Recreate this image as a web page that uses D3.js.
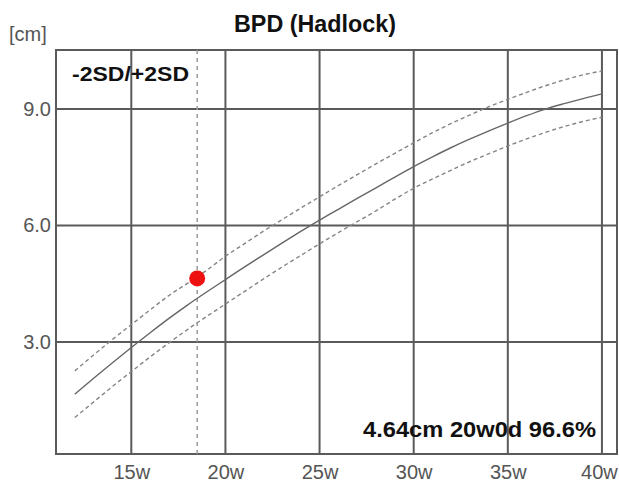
<!DOCTYPE html>
<html>
<head>
<meta charset="utf-8">
<script src="https://cdn.jsdelivr.net/npm/d3@7"></script>
<style>
  body { margin: 0; background: #fff; }
  svg { display: block; font-family: "Liberation Sans", Arial, sans-serif; }
</style>
</head>
<body>
<div id="chart"></div>
<script>
// Gestational weeks and BPD curve values (cm)
const weeks = [12, 13, 14, 15, 16, 17, 18, 19, 20, 21, 22, 23, 24, 25, 26, 27, 28, 29, 30, 31, 32, 33, 34, 35, 36, 37, 38, 39, 40];
const meanBPD = [1.66, 2.07, 2.47, 2.86, 3.24, 3.61, 3.96, 4.29, 4.61, 4.93, 5.24, 5.55, 5.85, 6.14, 6.42, 6.70, 6.97, 7.25, 7.52, 7.77, 8.01, 8.23, 8.44, 8.64, 8.83, 9.00, 9.14, 9.27, 9.39];
const upperBPD = [2.26, 2.67, 3.07, 3.45, 3.83, 4.20, 4.52, 4.85, 5.21, 5.53, 5.85, 6.15, 6.45, 6.74, 7.03, 7.31, 7.59, 7.86, 8.13, 8.39, 8.63, 8.85, 9.06, 9.25, 9.43, 9.60, 9.75, 9.88, 9.98];
const lowerBPD = [1.06, 1.46, 1.86, 2.24, 2.62, 2.98, 3.33, 3.66, 3.98, 4.30, 4.62, 4.93, 5.23, 5.53, 5.82, 6.10, 6.38, 6.68, 6.96, 7.20, 7.43, 7.65, 7.85, 8.05, 8.23, 8.40, 8.55, 8.68, 8.79];

// Measured point
const measWeek = 18.5;
const measBPD = 4.64;
const measText = "4.64cm 20w0d 96.6%";

// Tick labels
const xTicks = [15, 20, 25, 30, 35, 40];
const yTicks = [3, 6, 9];

const svgWidth = 619;
const svgHeight = 486;
const margin = { top: 50, right: 2, bottom: 32, left: 56 };
const width = svgWidth - margin.left - margin.right;
const height = svgHeight - margin.top - margin.bottom;

const svg = d3.select("#chart")
    .append("svg")
    .attr("width", svgWidth)
    .attr("height", svgHeight);

const g = svg.append("g")
    .attr("transform", `translate(${margin.left}, ${margin.top})`);

const x = d3.scaleLinear().domain([11, 40.8]).range([0, width]);
const y = d3.scaleLinear().domain([0.12, 10.52]).range([height, 0]);

const gridColor = "#5a5a5a";

// grid lines
g.selectAll(".vgrid")
    .data(xTicks)
    .enter()
    .append("line")
    .attr("x1", d => x(d)).attr("x2", d => x(d))
    .attr("y1", 0).attr("y2", height)
    .attr("stroke", gridColor)
    .attr("stroke-width", 2);

g.selectAll(".hgrid")
    .data(yTicks)
    .enter()
    .append("line")
    .attr("x1", 0).attr("x2", width)
    .attr("y1", d => y(d)).attr("y2", d => y(d))
    .attr("stroke", gridColor)
    .attr("stroke-width", 2);

// frame
g.append("rect")
    .attr("width", width)
    .attr("height", height)
    .attr("fill", "none")
    .attr("stroke", gridColor)
    .attr("stroke-width", 2);

// axis labels through d3 axes, domain and tick lines hidden
const xAxis = g.append("g")
    .attr("transform", `translate(0, ${height})`)
    .call(d3.axisBottom(x).tickValues(xTicks).tickSize(0).tickPadding(11).tickFormat(d => d + "w"));
const yAxis = g.append("g")
    .call(d3.axisLeft(y).tickValues(yTicks).tickSize(0).tickPadding(5).tickFormat(d3.format(".1f")));
[xAxis, yAxis].forEach(a => {
    a.select(".domain").remove();
    a.selectAll("text")
        .attr("font-family", "'Liberation Sans', Arial, sans-serif")
        .attr("font-size", 20)
        .attr("fill", "#555");
});
// keep the last week label inside the picture
xAxis.selectAll("text").filter(d => d === 40).attr("dx", -3);

// measurement week marker
g.append("line")
    .attr("x1", x(measWeek)).attr("x2", x(measWeek))
    .attr("y1", 0).attr("y2", height)
    .attr("stroke", "#9a9a9a")
    .attr("stroke-width", 1.5)
    .attr("stroke-dasharray", "4,4");

// curves
const line = d3.line()
    .x((d, i) => x(weeks[i]))
    .y(d => y(d))
    .curve(d3.curveMonotoneX);

g.append("path")
    .attr("d", line(upperBPD))
    .attr("fill", "none")
    .attr("stroke", "#858585")
    .attr("stroke-width", 1.4)
    .attr("stroke-dasharray", "4,3");

g.append("path")
    .attr("d", line(lowerBPD))
    .attr("fill", "none")
    .attr("stroke", "#858585")
    .attr("stroke-width", 1.4)
    .attr("stroke-dasharray", "4,3");

g.append("path")
    .attr("d", line(meanBPD))
    .attr("fill", "none")
    .attr("stroke", "#666")
    .attr("stroke-width", 1.4);

// measured point
g.append("circle")
    .attr("cx", x(measWeek))
    .attr("cy", y(measBPD))
    .attr("r", 8)
    .attr("fill", "#ee1111");

// texts
svg.append("text")
    .attr("x", 315)
    .attr("y", 32)
    .attr("text-anchor", "middle")
    .attr("font-size", 23)
    .attr("font-weight", "bold")
    .attr("fill", "#111")
    .attr("textLength", 162)
    .attr("lengthAdjust", "spacingAndGlyphs")
    .text("BPD (Hadlock)");

svg.append("text")
    .attr("x", 9)
    .attr("y", 41)
    .attr("font-size", 20)
    .attr("fill", "#555")
    .text("[cm]");

g.append("text")
    .attr("x", 16)
    .attr("y", 31)
    .attr("font-size", 21)
    .attr("font-weight", "bold")
    .attr("fill", "#111")
    .attr("textLength", 117)
    .attr("lengthAdjust", "spacingAndGlyphs")
    .text("-2SD/+2SD");

g.append("text")
    .attr("x", 363 - margin.left)
    .attr("y", 437 - margin.top)
    .attr("font-size", 22)
    .attr("font-weight", "bold")
    .attr("fill", "#111")
    .attr("textLength", 233)
    .attr("lengthAdjust", "spacingAndGlyphs")
    .text(measText);
</script>
</body>
</html>
